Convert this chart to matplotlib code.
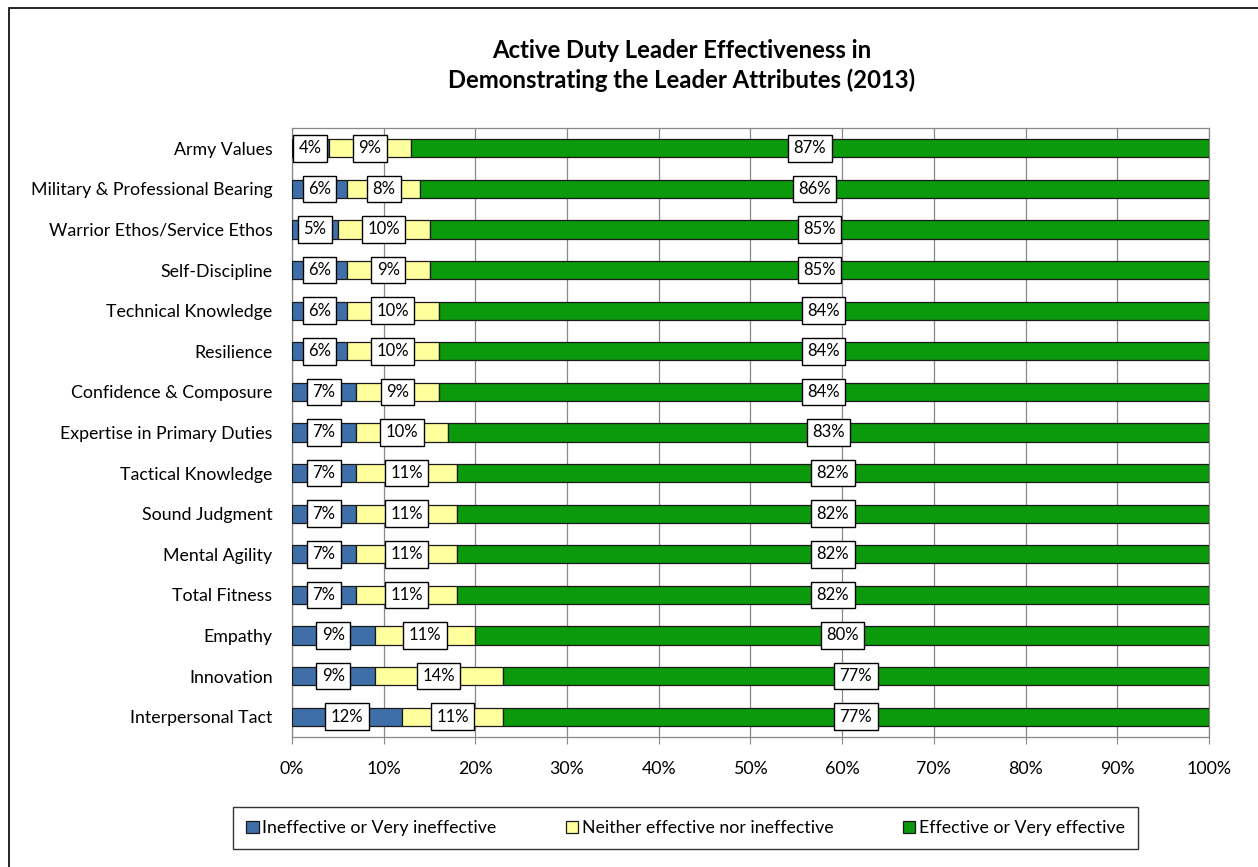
import numpy as np
import matplotlib
matplotlib.use('Agg')
from matplotlib import pyplot as plt
from matplotlib.patches import Rectangle

plt.rcParams['font.family'] = ['Lato', 'DejaVu Sans']

attributes = ['Army Values', 'Military & Professional Bearing', 'Warrior Ethos/Service Ethos',
	'Self-Discipline', 'Technical Knowledge', 'Resilience', 'Confidence & Composure',
	'Expertise in Primary Duties', 'Tactical Knowledge', 'Sound Judgment', 'Mental Agility',
	'Total Fitness', 'Empathy', 'Innovation', 'Interpersonal Tact']
ineffective = [4, 6, 5, 6, 6, 6, 7, 7, 7, 7, 7, 7, 9, 9, 12]
neither = [9, 8, 10, 9, 10, 10, 9, 10, 11, 11, 11, 11, 11, 14, 11]
effective = [87, 86, 85, 85, 84, 84, 84, 83, 82, 82, 82, 82, 80, 77, 77]
series_names = ['Ineffective or Very ineffective', 'Neither effective nor ineffective', 'Effective or Very effective']
colors = ['#3f6fa8', '#ffff9e', '#0b9a0b']

fig = plt.figure(figsize=(12.58, 8.67), dpi=100)
ax = fig.add_axes([0.2321, 0.150, 0.7289, 0.7024])

# outer chart frame
fig.patches.append(Rectangle((0.007, -0.1), 1.2, 1.091, transform=fig.transFigure,
	fill=False, edgecolor='black', linewidth=1.2))

y = np.arange(len(attributes))
left = np.zeros(len(attributes))
handles = []
for vals, col, name in zip((ineffective, neither, effective), colors, series_names):
	vals = np.array(vals, dtype=float)
	b = ax.barh(y, vals, left=left, height=0.45, color=col, edgecolor='#1a1a1a', linewidth=0.9, label=name, zorder=3)
	handles.append(b)
	for yi, l, v in zip(y, left, vals):
		ax.text(l + v/2, yi, '%d%%' % v, ha='center', va='center', fontsize=12, zorder=5,
			bbox=dict(boxstyle='square,pad=0.32', facecolor='white', edgecolor='black', linewidth=1.0))
	left = left + vals

ax.set_xlim(0, 100)
ax.set_ylim(len(attributes) - 0.5, -0.5)
ax.set_yticks(y)
ax.set_yticklabels(attributes, fontsize=12.8)
ax.set_xticks(np.arange(0, 101, 10))
ax.set_xticklabels(['%d%%' % t for t in range(0, 101, 10)], fontsize=12.8)
ax.tick_params(axis='y', length=0, pad=14)
ax.tick_params(axis='x', length=5, color='#888888', pad=12)
ax.grid(axis='x', color='#888888', linewidth=0.9, zorder=0)
for s in ax.spines.values():
	s.set_color('#888888')
	s.set_linewidth(0.9)

fig.text(0.542, 0.924, 'Active Duty Leader Effectiveness in\nDemonstrating the Leader Attributes (2013)',
	ha='center', va='center', fontsize=17.2, fontweight='bold', linespacing=1.32)

leg = fig.legend(handles=handles, loc='center', bbox_to_anchor=(0.545, 0.045), ncol=3, frameon=True,
	fancybox=False, edgecolor='black', fontsize=12.8, handlelength=0.7, handleheight=0.7,
	handletextpad=0.2, columnspacing=3.9, borderpad=0.75)
leg.get_frame().set_linewidth(1.0)

fig.savefig('out.png', dpi=100)
